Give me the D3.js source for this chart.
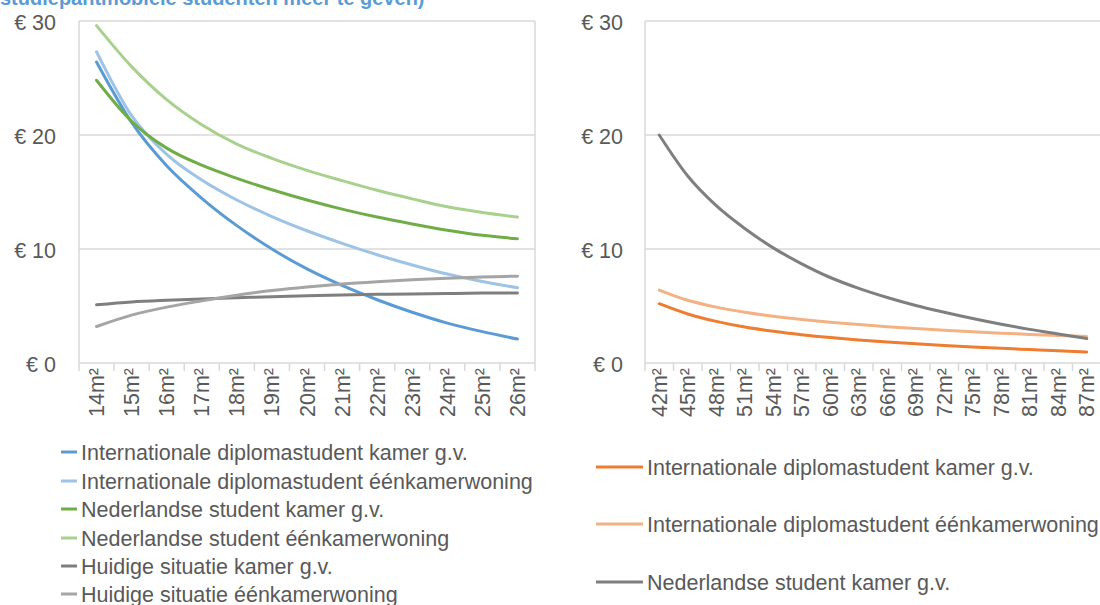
<!DOCTYPE html>
<html><head><meta charset="utf-8">
<script src="https://cdn.jsdelivr.net/npm/d3@7"></script>
<style>body{margin:0;background:#fff;}svg{display:block;font-family:"Liberation Sans",Arial,sans-serif;}</style>
</head><body>
<svg id="chart" width="1100" height="605"></svg>
<script>
const leftCategories = ["14m²","15m²","16m²","17m²","18m²","19m²","20m²","21m²","22m²","23m²","24m²","25m²","26m²"];
const intlKamer      = [26.4,21.1,17.3,14.45,12.05,10.0,8.25,6.8,5.55,4.45,3.5,2.75,2.1];
const intlEenkamer   = [27.3,21.7,18.3,16.05,14.3,12.85,11.6,10.5,9.5,8.6,7.8,7.15,6.6];
const nlKamer        = [24.8,21.2,18.85,17.35,16.2,15.2,14.3,13.5,12.8,12.2,11.65,11.2,10.9];
const nlEenkamer     = [29.6,26.0,23.1,20.9,19.2,17.95,16.9,16.0,15.15,14.4,13.7,13.2,12.8];
const huidigKamer    = [5.1,5.35,5.5,5.62,5.72,5.82,5.9,5.97,6.02,6.06,6.1,6.13,6.15];
const huidigEenkamer = [3.2,4.2,4.9,5.45,5.95,6.35,6.67,6.93,7.13,7.3,7.43,7.54,7.62];

const rightCategories = ["42m²","45m²","48m²","51m²","54m²","57m²","60m²","63m²","66m²","69m²","72m²","75m²","78m²","81m²","84m²","87m²"];
const rIntlKamer    = [5.2,4.3,3.65,3.15,2.78,2.48,2.23,2.02,1.84,1.68,1.54,1.41,1.29,1.18,1.07,0.97];
const rIntlEenkamer = [6.4,5.5,4.9,4.45,4.1,3.82,3.58,3.37,3.18,3.02,2.87,2.74,2.62,2.51,2.41,2.32];
const rNlKamer      = [20.0,16.4,13.8,11.8,10.1,8.7,7.5,6.55,5.75,5.05,4.45,3.9,3.4,2.95,2.55,2.15];

const yTicks = [0,10,20,30];
const yTickLabels = ["€ 0","€ 10","€ 20","€ 30"];
const titleText = "studiepantmobiele studenten meer te geven)";

const leftSeries = [
  {name:"Internationale diplomastudent kamer g.v.", values:intlKamer, color:"#5B9BD5"},
  {name:"Internationale diplomastudent éénkamerwoning", values:intlEenkamer, color:"#9DC3E6"},
  {name:"Nederlandse student kamer g.v.", values:nlKamer, color:"#70AD47"},
  {name:"Nederlandse student éénkamerwoning", values:nlEenkamer, color:"#A9D18E"},
  {name:"Huidige situatie kamer g.v.", values:huidigKamer, color:"#7F7F7F"},
  {name:"Huidige situatie éénkamerwoning", values:huidigEenkamer, color:"#A5A5A5"}
];
const rightSeries = [
  {name:"Internationale diplomastudent kamer g.v.", values:rIntlKamer, color:"#ED7D31"},
  {name:"Internationale diplomastudent éénkamerwoning", values:rIntlEenkamer, color:"#F4B183"},
  {name:"Nederlandse student kamer g.v.", values:rNlKamer, color:"#7F7F7F"}
];

const svg = d3.select("#chart");
const textColor = "#595959", gridColor = "#D9D9D9", fs = 21.5;
const y = d3.scaleLinear().domain([0,30]).range([363,21]);

// title (partly cut off at the top in the reference)
svg.append("text").attr("x",0).attr("y",5)
  .attr("font-size",20).attr("font-weight","bold").attr("fill","#5B9BD5")
  .text(titleText);

function panel(cats, series, x0, x1, labelX){
  const x = d3.scaleBand().domain(cats).range([x0,x1]).padding(0);
  const g = svg.append("g");
  g.selectAll(".grid").data(yTicks.filter(d=>d>0)).join("line")
    .attr("x1",x0).attr("x2",x1).attr("y1",d=>y(d)).attr("y2",d=>y(d))
    .attr("stroke",gridColor).attr("stroke-width",1.5);
  g.append("line").attr("x1",x0).attr("x2",x1).attr("y1",y(0)).attr("y2",y(0)).attr("stroke",gridColor).attr("stroke-width",1.5);
  g.append("line").attr("x1",x0).attr("x2",x0).attr("y1",y(30)).attr("y2",y(0)+8).attr("stroke",gridColor).attr("stroke-width",1.5);
  g.append("line").attr("x1",x1).attr("x2",x1).attr("y1",y(30)).attr("y2",y(0)+8).attr("stroke",gridColor).attr("stroke-width",1.5);
  const bounds = cats.map(c=>x(c)).slice(1);
  g.selectAll(".tk").data(bounds).join("line")
    .attr("x1",d=>d).attr("x2",d=>d).attr("y1",y(0)).attr("y2",y(0)+8)
    .attr("stroke",gridColor).attr("stroke-width",1.5);
  g.selectAll(".yl").data(yTicks).join("text")
    .attr("x",labelX).attr("y",d=>y(d)+1).attr("dy","0.35em").attr("text-anchor","end")
    .attr("font-size",fs).attr("fill",textColor).text((d,i)=>yTickLabels[i]);
  g.selectAll(".xl").data(cats).join("text")
    .attr("transform",d=>`translate(${x(d)+x.bandwidth()/2},${y(0)+5}) rotate(-90)`)
    .attr("dy","0.35em").attr("text-anchor","end")
    .attr("font-size",fs).attr("fill",textColor).text(d=>d);
  const line = d3.line().x((d,i)=>x(cats[i])+x.bandwidth()/2).y(d=>y(d)).curve(d3.curveMonotoneX);
  g.selectAll(".ln").data(series).join("path")
    .attr("d",d=>line(d.values)).attr("fill","none").attr("stroke",d=>d.color)
    .attr("stroke-width",3).attr("stroke-linecap","round");
}
panel(leftCategories, leftSeries, 79, 535, 56);
panel(rightCategories, rightSeries, 645, 1101, 623);

const ll = svg.append("g");
const llY = [452,481,509,538,566,594];
leftSeries.forEach((s,i)=>{
  ll.append("line").attr("x1",61).attr("x2",77).attr("y1",llY[i]).attr("y2",llY[i]).attr("stroke",s.color).attr("stroke-width",3);
  ll.append("text").attr("x",81).attr("y",llY[i]).attr("dy","0.35em").attr("font-size",fs).attr("fill",textColor).text(s.name);
});
const rl = svg.append("g");
const rlY = [467,524,582];
rightSeries.forEach((s,i)=>{
  rl.append("line").attr("x1",596).attr("x2",643).attr("y1",rlY[i]).attr("y2",rlY[i]).attr("stroke",s.color).attr("stroke-width",3);
  rl.append("text").attr("x",647).attr("y",rlY[i]).attr("dy","0.35em").attr("font-size",fs).attr("fill",textColor).text(s.name);
});
</script>
</body></html>
